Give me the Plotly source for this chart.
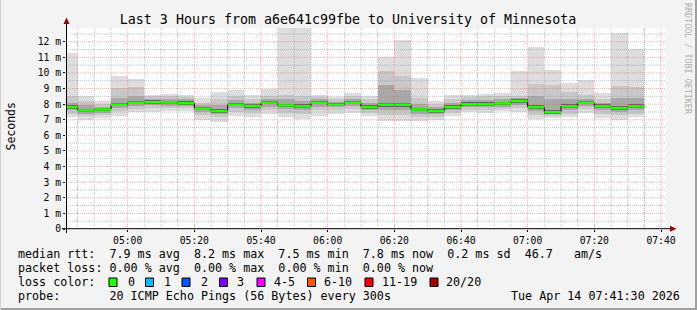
import plotly.graph_objects as go
from datetime import datetime, timedelta

# ---------------- data (values in ms) ----------------
bar_start_strings = [
    "04:40", "04:45", "04:50", "04:55", "05:00", "05:05", "05:10", "05:15", "05:20",
    "05:25", "05:30", "05:35", "05:40", "05:45", "05:50", "05:55", "06:00", "06:05",
    "06:10", "06:15", "06:20", "06:25", "06:30", "06:35", "06:40", "06:45", "06:50",
    "06:55", "07:00", "07:05", "07:10", "07:15", "07:20", "07:25", "07:30",
]
median = [7.81, 7.60, 7.66, 7.96, 8.09, 8.13, 8.11, 8.06, 7.71, 7.56, 7.96, 7.88, 8.09, 7.92,
          7.86, 8.09, 7.96, 8.09, 7.81, 7.96, 7.96, 7.66, 7.56, 7.81, 7.99, 7.99, 8.05, 8.20,
          7.81, 7.49, 7.86, 8.09, 7.86, 7.75, 7.86]
ping_max = [11.3, 8.52, 8.18, 9.81, 9.59, 8.61, 8.67, 8.56, 8.39, 8.78, 8.93, 8.56, 9.0, 13.2,
            13.2, 8.61, 8.46, 8.74, 8.52, 11.03, 12.1, 9.68, 8.20, 8.56, 8.61, 8.67, 8.71, 10.1,
            11.67, 10.17, 9.35, 9.52, 8.71, 12.53, 11.56]
ping_min = [7.2, 7.0, 7.1, 7.27, 7.49, 7.49, 7.53, 7.53, 6.96, 6.85, 7.23, 7.17, 7.38, 7.17,
            7.06, 7.27, 7.38, 7.45, 7.21, 6.92, 6.92, 6.92, 6.96, 7.23, 7.49, 7.45, 7.53, 7.49,
            7.06, 7.10, 7.17, 7.45, 7.10, 7.0, 7.17]
ping_hi2 = [8.5, 8.2, 8.0, 9.04, 9.1, 8.5, 8.5, 8.45, 8.1, 8.3, 8.5, 8.3, 8.5, 8.6, 8.5, 8.45,
            8.3, 8.5, 8.3, 10.11, 9.81, 8.4, 8.0, 8.3, 8.45, 8.5, 8.5, 8.52, 9.31, 9.21, 8.78,
            8.56, 8.35, 9.17, 9.1]
ping_lo2 = [7.4, 7.25, 7.3, 7.55, 7.7, 7.75, 7.75, 7.75, 7.3, 7.15, 7.5, 7.45, 7.65, 7.45, 7.35,
            7.6, 7.6, 7.7, 7.45, 7.3, 7.3, 7.2, 7.2, 7.45, 7.65, 7.65, 7.7, 7.75, 7.3, 7.25, 7.4,
            7.7, 7.4, 7.3, 7.4]
ping_hi3 = [8.1, 7.95, 7.85, 8.4, 8.5, 8.35, 8.35, 8.3, 7.95, 7.95, 8.25, 8.1, 8.3, 8.3, 8.2,
            8.3, 8.15, 8.3, 8.05, 9.21, 8.89, 8.0, 7.8, 8.05, 8.25, 8.25, 8.3, 8.4, 8.5, 8.3, 8.3,
            8.35, 8.1, 8.4, 8.4]
ping_lo3 = [7.6, 7.4, 7.45, 7.75, 7.9, 7.95, 7.9, 7.9, 7.5, 7.35, 7.75, 7.65, 7.85, 7.7, 7.6,
            7.85, 7.8, 7.9, 7.6, 7.65, 7.65, 7.4, 7.35, 7.6, 7.8, 7.8, 7.85, 7.95, 7.55, 7.35, 7.6,
            7.9, 7.6, 7.5, 7.6]
ping_hi4 = [7.93, 7.72, 7.78, 8.08, 8.21, 8.25, 8.23, 8.18, 7.83, 7.68, 8.08, 8.0, 8.21, 8.04,
            7.98, 8.21, 8.08, 8.21, 7.93, 8.1, 8.1, 7.78, 7.68, 7.93, 8.11, 8.11, 8.17, 8.32,
            7.95, 7.65, 7.98, 8.21, 7.98, 7.9, 7.98]
ping_lo4 = [7.71, 7.5, 7.56, 7.86, 7.99, 8.03, 8.01, 7.96, 7.61, 7.46, 7.86, 7.78, 7.99, 7.82,
            7.76, 7.99, 7.86, 7.99, 7.71, 7.84, 7.84, 7.56, 7.46, 7.71, 7.89, 7.89, 7.95, 8.1,
            7.69, 7.38, 7.76, 7.99, 7.76, 7.64, 7.76]

x_tick_labels = ["05:00", "05:20", "05:40", "06:00", "06:20", "06:40", "07:00", "07:20", "07:40"]
y_tick_values = [0, 1, 2, 3, 4, 5, 6, 7, 8, 9, 10, 11, 12]
y_tick_labels = ["0"] + ["%d m" % v for v in y_tick_values[1:]]

loss_labels = ["0", "1", "2", "3", "4-5", "6-10", "11-19", "20/20"]
loss_colors = ["#26ff00", "#00b8ff", "#0059ff", "#7e00ff", "#ff00ff", "#ff5500", "#ff0000", "#a10000"]

title_text = "Last 3 Hours from a6e641c99fbe to University of Minnesota"
line1 = "median rtt:  7.9 ms avg  8.2 ms max  7.5 ms min  7.8 ms now  0.2 ms sd  46.7   am/s"
line2 = "packet loss: 0.00 % avg  0.00 % max  0.00 % min  0.00 % now"
line3 = "loss color:"
line4a = "probe:       20 ICMP Echo Pings (56 Bytes) every 300s"
line4b = "Tue Apr 14 07:41:30 2026"

# ---------------- geometry ----------------
DAY = "2026-04-14 "
step = timedelta(minutes=5)
starts = [datetime.strptime(DAY + s, "%Y-%m-%d %H:%M") for s in bar_start_strings]
ends = [s + step for s in starts]
centers = [s + step / 2 for s in starts]
x_lo = datetime(2026, 4, 14, 4, 41, 30)
x_hi = datetime(2026, 4, 14, 7, 41, 30)
Y_MAX = 12.88

FW, FH = 697, 310
L, T, PW, PH = 66, 28, 600, 201
R, B = FW - L - PW, FH - T - PH


def fx(px):
    return (px - L) / PW


def fy(py):
    return (T + PH - py) / PH


MONO = "DejaVu Sans Mono"
nb = lambda s: s.replace(" ", "\u00a0")

fig = go.Figure()

# smoke bands, outer (light) to inner (dark)
bands = [
    (ping_min, ping_max, "#dddddd"),
    (ping_lo2, ping_hi2, "#c8c8c8"),
    (ping_lo3, ping_hi3, "#a8a8a8"),
    (ping_lo4, ping_hi4, "#606060"),
]
for lo, hi, col in bands:
    fig.add_trace(go.Bar(
        x=centers, y=[h - l for l, h in zip(lo, hi)], base=lo,
        width=[step.total_seconds() * 1000] * len(centers),
        marker=dict(color=col, line=dict(width=0)), hoverinfo="skip", showlegend=False,
    ))

# grid (dotted, drawn over the smoke)
def hgrid(vals, color):
    xs, ys = [], []
    for v in vals:
        xs += [x_lo, x_hi, None]
        ys += [v, v, None]
    fig.add_trace(go.Scatter(x=xs, y=ys, mode="lines", hoverinfo="skip", showlegend=False,
                             line=dict(color=color, width=1, dash="1px,1px")))


def vgrid(times, color):
    xs, ys = [], []
    for t in times:
        xs += [t, t, None]
        ys += [0, Y_MAX, None]
    fig.add_trace(go.Scatter(x=xs, y=ys, mode="lines", hoverinfo="skip", showlegend=False,
                             line=dict(color=color, width=1, dash="1px,1px")))


minor_y = [v + 0.5 for v in y_tick_values]
major_y = y_tick_values[1:]
major_t = [datetime.strptime(DAY + s, "%Y-%m-%d %H:%M") for s in x_tick_labels]
minor_t = [e for e in ends if e not in major_t]
minor_t += [major_t[-1] - step]
hgrid(minor_y, "rgba(150,150,150,0.55)")
vgrid(minor_t, "rgba(150,150,150,0.55)")
hgrid(major_y, "rgba(255,80,80,0.45)")
vgrid(major_t, "rgba(255,80,80,0.45)")

# median: thin black step line + green segments
fig.add_trace(go.Scatter(x=starts + [ends[-1]], y=median + [median[-1]], mode="lines",
                         line=dict(color="#000000", width=1, shape="hv"),
                         hoverinfo="skip", showlegend=False))
gx, gy = [], []
for s, e, m in zip(starts, ends, median):
    gx += [s, e, None]
    gy += [m, m, None]
fig.add_trace(go.Scatter(x=gx, y=gy, mode="lines", line=dict(color=loss_colors[0], width=2.5),
                         hoverinfo="skip", showlegend=False))

shapes = []
# axes with arrows
shapes.append(dict(type="line", xref="paper", yref="paper", x0=fx(66.5), x1=fx(66.5),
                   y0=fy(233), y1=fy(22), line=dict(color="#000", width=1)))
shapes.append(dict(type="path", xref="paper", yref="paper",
                   path="M %f %f L %f %f L %f %f Z" % (fx(66.5), fy(17.5), fx(63.5), fy(24), fx(69.5), fy(24)),
                   fillcolor="#a00000", line=dict(width=0)))
shapes.append(dict(type="line", xref="paper", yref="paper", x0=fx(62), x1=fx(671),
                   y0=fy(228.7), y1=fy(228.7), line=dict(color="#000", width=1)))
shapes.append(dict(type="path", xref="paper", yref="paper",
                   path="M %f %f L %f %f L %f %f Z" % (fx(676.5), fy(228.7), fx(670), fy(225.7), fx(670), fy(231.7)),
                   fillcolor="#a00000", line=dict(width=0)))
# frame
shapes.append(dict(type="line", xref="paper", yref="paper", x0=fx(0), x1=fx(FW),
                   y0=fy(FH - 1), y1=fy(FH - 1), line=dict(color="#a0a0a0", width=2)))
shapes.append(dict(type="line", xref="paper", yref="paper", x0=fx(FW - 1), x1=fx(FW - 1),
                   y0=fy(0), y1=fy(FH), line=dict(color="#a0a0a0", width=2)))
shapes.append(dict(type="line", xref="paper", yref="paper", x0=fx(0.5), x1=fx(0.5),
                   y0=fy(0), y1=fy(FH), line=dict(color="#d0d0d0", width=1)))

annotations = []


def txt(s, px, py, size=11.7, color="#000", xanchor="left", angle=0):
    annotations.append(dict(text=nb(s), x=fx(px), y=fy(py), xref="paper", yref="paper",
                            xanchor=xanchor, yanchor="middle", showarrow=False, textangle=angle,
                            font=dict(family=MONO, size=size, color=color)))


txt(line1, 16, 254)
txt(line2, 16, 268)
txt(line3, 16, 282)
txt(line4a, 16, 296)
txt(line4b, 682, 296, xanchor="right")
txt("Seconds", 10.5, 127, size=11.5, xanchor="center", angle=-90)
txt("RRDTOOL / TOBI OETIKER", 688, 59, size=8.4, color="#b0b0b0", xanchor="center", angle=90)

box_left = [109, 145.5, 182, 219.5, 257, 307.5, 365, 430]
label_left = [125.5, 162, 198.5, 235, 271.5, 322, 380, 444]
for bl, ll, lab, col in zip(box_left, label_left, loss_labels, loss_colors):
    shapes.append(dict(type="rect", xref="paper", yref="paper", x0=fx(bl), x1=fx(bl + 8),
                       y0=fy(286.5), y1=fy(278), fillcolor=col, line=dict(color="#000", width=1)))
    txt(lab, ll, 282)

fig.update_layout(
    width=FW, height=FH,
    margin=dict(l=L, r=R, t=T, b=B, pad=0),
    paper_bgcolor="#f3f3f3", plot_bgcolor="#ffffff",
    barmode="overlay", bargap=0, showlegend=False,
    title=dict(text=title_text, x=348 / FW, xref="container", xanchor="center",
               y=1 - 19 / FH, yref="container", yanchor="middle",
               font=dict(family=MONO, size=13.3, color="#000")),
    xaxis=dict(type="date", range=[x_lo, x_hi], showgrid=False, zeroline=False, showline=False,
               tickvals=major_t, ticktext=x_tick_labels, ticks="outside", ticklen=2,
               tickcolor="#000", tickfont=dict(family=MONO, size=9.7, color="#000")),
    yaxis=dict(range=[0, Y_MAX], showgrid=False, zeroline=False, showline=False,
               tickvals=y_tick_values, ticktext=y_tick_labels, ticks="outside", ticklen=2,
               tickcolor="#000", tickfont=dict(family=MONO, size=9.7, color="#000")),
    shapes=shapes, annotations=annotations,
)
fig.update_xaxes(fixedrange=True)
fig.update_yaxes(fixedrange=True)

fig.write_html("out.html")
